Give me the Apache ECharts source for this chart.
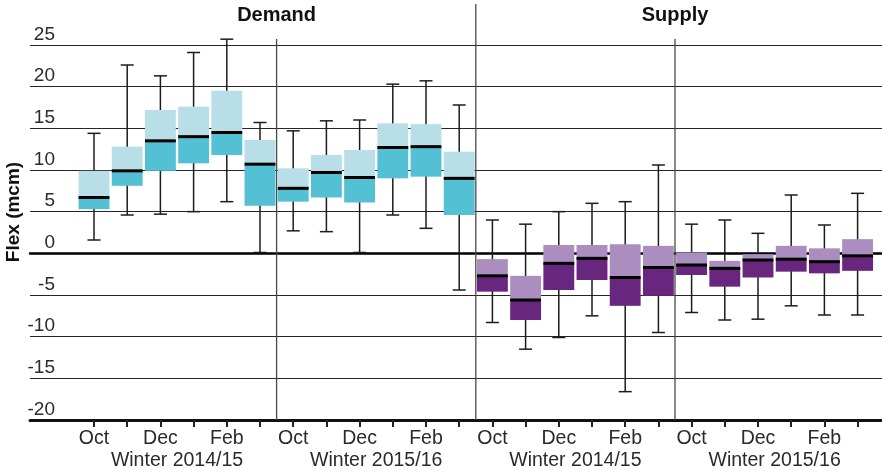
<!DOCTYPE html>
<html>
<head>
<meta charset="utf-8">
<script src="https://cdn.jsdelivr.net/npm/echarts@6/dist/echarts.min.js"></script>
<style>
  html, body { margin: 0; padding: 0; background: #fff; }
  #chart { width: 882px; height: 475px; }
</style>
</head>
<body>
<div id="chart"></div>
<script>
// Labels
const months = ['Oct', 'Nov', 'Dec', 'Jan', 'Feb', 'Mar'];
const winters = ['Winter 2014/15', 'Winter 2015/16'];
const panels = ['Demand', 'Supply'];

// Demand flex (mcm), Oct 2014 ... Mar 2015, then Oct 2015 ... Mar 2016
const demandMin    = [1.6, 4.6, 4.7, 5.0, 6.2, 0.1,   2.7, 2.6, 0.1, 4.6, 3.0, -4.4];
const demandQ1     = [5.3, 8.1, 9.9, 10.8, 11.8, 5.7, 6.2, 6.7, 6.1, 9.0, 9.2, 4.6];
const demandMedian = [6.7, 9.9, 13.5, 14.0, 14.5, 10.7, 7.8, 9.7, 9.1, 12.7, 12.8, 9.0];
const demandQ3     = [9.9, 12.8, 17.2, 17.6, 19.5, 13.6, 10.2, 11.8, 12.4, 15.6, 15.5, 12.2];
const demandMax    = [14.4, 22.6, 21.3, 24.1, 25.7, 15.7, 14.7, 15.9, 16.0, 20.3, 20.7, 17.8];

// Supply flex (mcm), same months
const supplyMin    = [-8.3, -11.5, -10.1, -7.5, -16.6, -9.5, -7.1, -8.0, -7.9, -6.3, -7.4, -7.4];
const supplyQ1     = [-4.6, -8.0, -4.4, -3.2, -6.3, -5.1,   -2.6, -4.0, -2.9, -2.2, -2.4, -2.1];
const supplyMedian = [-2.7, -5.6, -1.2, -0.6, -2.9, -1.7,   -1.4, -1.8, -0.8, -0.7, -1.0, -0.3];
const supplyQ3     = [-0.7, -2.7, 1.0, 1.0, 1.1, 0.9,       0.1, -0.9, -0.1, 0.9, 0.6, 1.7];
const supplyMax    = [4.0, 3.5, 5.0, 6.0, 6.2, 10.6,        3.5, 4.0, 2.4, 7.0, 3.4, 7.2];

// Y scale
const yMin = -20, yMax = 25, yStep = 5;

// One x category per month, panel by panel, winter by winter
const monthCategories = [];
const winterCategories = [];
panels.forEach(() => winters.forEach(w => {
  winterCategories.push(w);
  months.forEach(m => monthCategories.push(m));
}));

function boxItems(offset, lo, q1, med, q3, hi) {
  return lo.map((v, i) => [offset + i, v, q1[i], med[i], q3[i], hi[i]]);
}
const perPanel = winters.length * months.length;
const demandData = boxItems(0, demandMin, demandQ1, demandMedian, demandQ3, demandMax);
const supplyData = boxItems(perPanel, supplyMin, supplyQ1, supplyMedian, supplyQ3, supplyMax);

// Index of the last month before each vertical separator
const separatorData = [];
for (let k = 1; k < winterCategories.length; k++) separatorData.push([k * months.length - 1, 0]);

const FONT = '"Liberation Sans", Arial, Helvetica, sans-serif';
const INK = '#1c1c1c';

function boxRenderer(lightColor, darkColor) {
  return function (params, api) {
    const x = api.value(0);
    const lo = api.coord([x, api.value(1)]);
    const q1 = api.coord([x, api.value(2)]);
    const med = api.coord([x, api.value(3)]);
    const q3 = api.coord([x, api.value(4)]);
    const hi = api.coord([x, api.value(5)]);
    const band = api.size([1, 0])[0];
    const w = band * 0.93;
    const cx = lo[0];
    const capHalf = 6.5;
    const whisker = { stroke: INK, lineWidth: 1.5 };
    return {
      type: 'group',
      children: [
        { type: 'line', shape: { x1: cx, y1: hi[1], x2: cx, y2: lo[1] }, style: whisker },
        { type: 'line', shape: { x1: cx - capHalf, y1: hi[1], x2: cx + capHalf, y2: hi[1] }, style: whisker },
        { type: 'line', shape: { x1: cx - capHalf, y1: lo[1], x2: cx + capHalf, y2: lo[1] }, style: whisker },
        { type: 'rect', shape: { x: cx - w / 2, y: med[1], width: w, height: q1[1] - med[1] }, style: { fill: darkColor } },
        { type: 'rect', shape: { x: cx - w / 2, y: q3[1], width: w, height: med[1] - q3[1] }, style: { fill: lightColor } },
        { type: 'line', shape: { x1: cx - w / 2, y1: med[1], x2: cx + w / 2, y2: med[1] }, style: { stroke: '#000', lineWidth: 3 } }
      ]
    };
  };
}

function separatorRenderer(params, api) {
  const i = api.value(0);
  const band = api.size([1, 0])[0];
  const x = api.coord([i, 0])[0] + band / 2;
  const bottom = api.coord([i, yMin])[1];
  const top = api.coord([i, yMax])[1];
  // the Demand / Supply split runs up to the panel titles
  const mid = (i + 1) === perPanel;
  return {
    type: 'line',
    shape: { x1: x, y1: mid ? 4 : top - 6, x2: x, y2: bottom },
    style: { stroke: '#4a4a4a', lineWidth: 1.3 }
  };
}

const gridBox = { top: 45, bottom: 55 };
const hiddenY = (gi) => ({
  type: 'value', gridIndex: gi, min: yMin, max: yMax, interval: yStep,
  axisLine: { show: false }, axisTick: { show: false }, axisLabel: { show: false }, splitLine: { show: false }
});

const chart = echarts.init(document.getElementById('chart'), null, { renderer: 'canvas' });
chart.setOption({
  animation: false,
  backgroundColor: '#fff',
  textStyle: { fontFamily: FONT },
  grid: [
    { left: 30, right: 0, top: gridBox.top, bottom: gridBox.bottom },
    { left: 77.4, right: 7.8, top: gridBox.top, bottom: gridBox.bottom },
    { left: 77.4, right: 7.8, top: gridBox.top, bottom: gridBox.bottom }
  ],
  yAxis: [
    {
      type: 'value', gridIndex: 0, min: yMin, max: yMax, interval: yStep,
      axisLine: { show: false }, axisTick: { show: false },
      axisLabel: {
        margin: -25, verticalAlign: 'bottom', fontSize: 19, color: '#2a2a2a',
        fontFamily: FONT, padding: [0, 0, 1, 0]
      },
      splitLine: { show: true, lineStyle: { color: '#262626', width: 1 } }
    },
    hiddenY(1),
    hiddenY(2)
  ],
  xAxis: [
    {
      type: 'value', gridIndex: 0, min: 0, max: 1, position: 'bottom',
      axisLine: { show: true, onZero: false, lineStyle: { color: '#111', width: 3 } },
      axisTick: { show: false }, axisLabel: { show: false }, splitLine: { show: false }
    },
    {
      type: 'value', gridIndex: 0, min: 0, max: 1, position: 'top',
      axisLine: { show: true, onZero: true, lineStyle: { color: '#000', width: 2.5 } },
      axisTick: { show: false }, axisLabel: { show: false }, splitLine: { show: false }
    },
    {
      type: 'category', gridIndex: 1, data: monthCategories, position: 'bottom', boundaryGap: true,
      axisLine: { show: false, onZero: false },
      axisTick: { show: true, interval: 0, alignWithLabel: true, length: 7, lineStyle: { color: '#222', width: 2 } },
      axisLabel: { interval: 1, margin: 9, fontSize: 19.5, color: '#2a2a2a', fontFamily: FONT },
      splitLine: { show: false }
    },
    {
      type: 'category', gridIndex: 1, data: winterCategories, position: 'bottom', boundaryGap: true,
      axisLine: { show: false, onZero: false }, axisTick: { show: false },
      axisLabel: { interval: 0, margin: 31, fontSize: 19.5, color: '#2a2a2a', fontFamily: FONT },
      splitLine: { show: false }
    },
    {
      type: 'category', gridIndex: 2, data: panels, position: 'top', boundaryGap: true,
      axisLine: { show: false, onZero: false }, axisTick: { show: false },
      axisLabel: { interval: 0, margin: 20, fontSize: 20, fontWeight: 'bold', color: '#111', fontFamily: FONT },
      splitLine: { show: false }
    }
  ],
  graphic: [
    {
      type: 'text', x: 14, y: 212, rotation: Math.PI / 2,
      style: {
        text: 'Flex (mcm)', font: 'bold 19px ' + FONT, fill: '#111',
        textAlign: 'center', textVerticalAlign: 'middle'
      }
    }
  ],
  series: [
    {
      name: 'Demand', type: 'custom', xAxisIndex: 2, yAxisIndex: 1,
      renderItem: boxRenderer('#b8dfe7', '#53c0d4'), data: demandData, silent: true
    },
    {
      name: 'Supply', type: 'custom', xAxisIndex: 2, yAxisIndex: 1,
      renderItem: boxRenderer('#ab8dbf', '#69267f'), data: supplyData, silent: true
    },
    {
      name: 'separators', type: 'custom', xAxisIndex: 2, yAxisIndex: 1, clip: false,
      renderItem: separatorRenderer, data: separatorData, silent: true, z: 1
    }
  ]
});
</script>
</body>
</html>
